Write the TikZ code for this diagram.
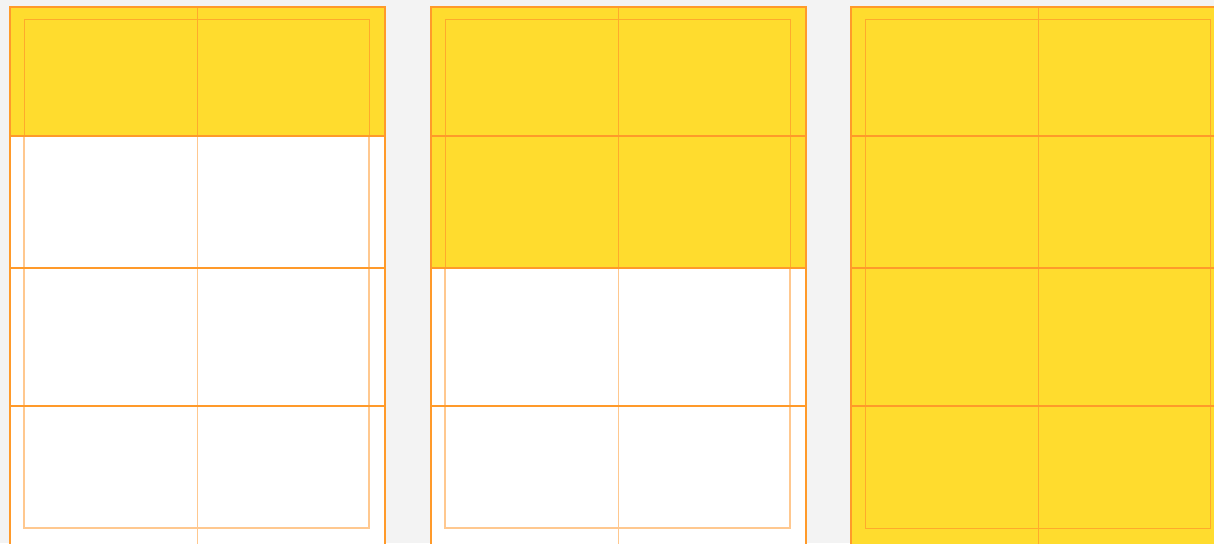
\documentclass[tikz,border=0pt]{standalone}
\usepackage{tikz}
\definecolor{bg}{HTML}{F3F3F3}
\definecolor{fillyel}{HTML}{FFDC2E}
\definecolor{lineor}{HTML}{FF9A2A}
\definecolor{linepeach}{HTML}{FFC88F}
\tikzset{
  gridline/.style={draw=lineor, line width=1.1pt},
  softline/.style={draw=linepeach, line width=1.1pt},
  yelline/.style={draw=lineor!75!fillyel, line width=1pt},
  outerframe/.style={draw=lineor, line width=1.4pt}
}
\newcommand{\mypanel}[2]{%
  % #1 = x offset, #2 = y where yellow ends
  \fill[white] (#1,7) rectangle ++(375,540);
  \draw[softline] (#1+14,20) rectangle (#1+359,528);
  \draw[softline] (#1+187.5,7) -- (#1+187.5,545);
  \fill[fillyel] (#1,7) rectangle (#1+375,#2);
  \begin{scope}
    \clip (#1,7) rectangle (#1+375,#2);
    \draw[yelline] (#1+14,20) rectangle (#1+359,528);
    \draw[yelline] (#1+187.5,7) -- (#1+187.5,545);
  \end{scope}
  \draw[gridline] (#1,136) -- (#1+375,136);
  \draw[gridline] (#1,268) -- (#1+375,268);
  \draw[gridline] (#1,406) -- (#1+375,406);
  \draw[outerframe] (#1,545) -- (#1,7) -- (#1+375,7) -- (#1+375,545);
}
\begin{document}
\begin{tikzpicture}[x=1pt,y=-1pt]
\useasboundingbox (0,0) rectangle (1214,543);
\fill[bg] (0,0) rectangle (1214,543);
\begin{scope}
\clip (0,0) rectangle (1214,543);
\mypanel{10}{136}
\mypanel{431}{268}
\mypanel{851}{545}
\end{scope}
\end{tikzpicture}
\end{document}
